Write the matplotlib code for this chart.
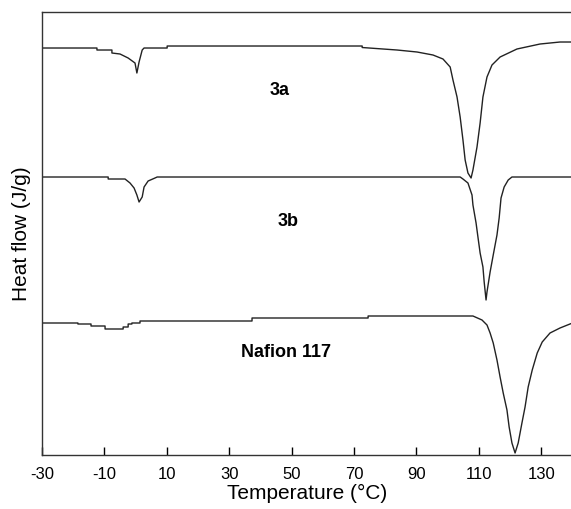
import matplotlib
matplotlib.use("Agg")
import matplotlib.pyplot as plt

# DSC traces, heat flow in arbitrary (offset) units
temp_3a = [-30, -12.4, -12.4, -7.6, -7.6, -5.0, -2.4, -0.2, 0.4, 1.1, 2.1, 2.7,
           10.1, 10.1, 72.6, 72.6, 83.8, 90.2, 95.3, 98.5, 100.8, 101.7, 103.0,
           104.0, 104.9, 105.6, 106.5, 107.5, 108.1, 109.4, 110.4, 111.3, 112.6,
           114.2, 116.8, 122.2, 129.6, 136.0, 140]
flow_3a = [407, 407, 405, 405, 402, 401, 397, 392, 382, 393, 405, 407,
           407, 409, 409, 407.5, 405, 403, 400, 396, 388, 375, 358,
           338, 315, 295, 282, 277, 285, 308, 332, 358, 378,
           390, 398, 406, 411, 413, 413]

temp_3b = [-30, -8.8, -8.8, -3.4, -1.8, -0.5, 0.4, 1.1, 2.1, 2.7, 4.0, 6.2, 6.9,
           104.0, 104.9, 106.5, 107.8, 108.1, 109.1, 109.7, 110.4, 111.3, 111.7,
           112.3, 112.6, 113.6, 114.6, 115.8, 116.5, 117.1, 118.1, 119.4, 120.6, 140]
flow_3b = [278, 278, 276, 276, 272, 267, 260, 253, 258, 268, 274, 277, 278,
           278, 276, 272, 260, 250, 232, 218, 202, 188, 173,
           155, 163, 183, 200, 220, 237, 257, 268, 275, 278, 278]

temp_naf = [-30, -18.5, -18.5, -14.3, -14.3, -9.8, -9.8, -4.0, -4.0, -2.4, -2.4,
            -1.2, -1.2, 1.4, 1.4, 37.3, 37.3, 74.5, 74.5, 108.1, 111.0, 112.6,
            113.6, 114.6, 115.8, 116.8, 117.8, 119.0, 119.7, 120.6, 121.6, 122.6,
            123.8, 124.8, 125.8, 127.1, 128.7, 130.3, 132.8, 136.0, 140]
flow_naf = [132, 132, 131, 131, 129, 129, 126, 126, 128, 128, 131,
            131, 132, 132, 134, 134, 137, 137, 139, 139, 135, 130,
            122, 112, 95, 78, 62, 45, 28, 12, 2, 12,
            32, 48, 68, 85, 102, 113, 122, 127, 132]

labels = ['3a', '3b', 'Nafion 117']
label_pos = [(46, 365), (49, 234), (48.2, 102)]
x_ticks = [-30, -10, 10, 30, 50, 70, 90, 110, 130]

plt.rcParams['font.family'] = ['Liberation Sans', 'DejaVu Sans']
plt.rcParams['axes.unicode_minus'] = False

fig = plt.figure(figsize=(5.71, 5.09), dpi=100)
ax = fig.add_axes([0.0736, 0.1061, 0.929, 0.8703])

for t, f in [(temp_3a, flow_3a), (temp_3b, flow_3b), (temp_naf, flow_naf)]:
    ax.plot(t, f, color='#222222', lw=1.0)

for lab, (x, y) in zip(labels, label_pos):
    ax.text(x, y, lab, fontsize=13, fontweight='bold', ha='center', va='center')

ax.set_xlim(-30, 140)
ax.set_ylim(0, 443)
ax.set_xticks(x_ticks)
ax.set_yticks([])
ax.tick_params(axis='x', direction='in', length=5.5, width=1.0, labelsize=12, pad=9)
ax.spines['right'].set_visible(False)
for s in ['left', 'bottom', 'top']:
    ax.spines[s].set_linewidth(1.0)
    ax.spines[s].set_color('#333333')

ax.set_xlabel('Temperature (°C)', fontsize=15, labelpad=1)
ax.set_ylabel('Heat flow (J/g)', fontsize=15, labelpad=8)

fig.savefig('out.png', dpi=100)
